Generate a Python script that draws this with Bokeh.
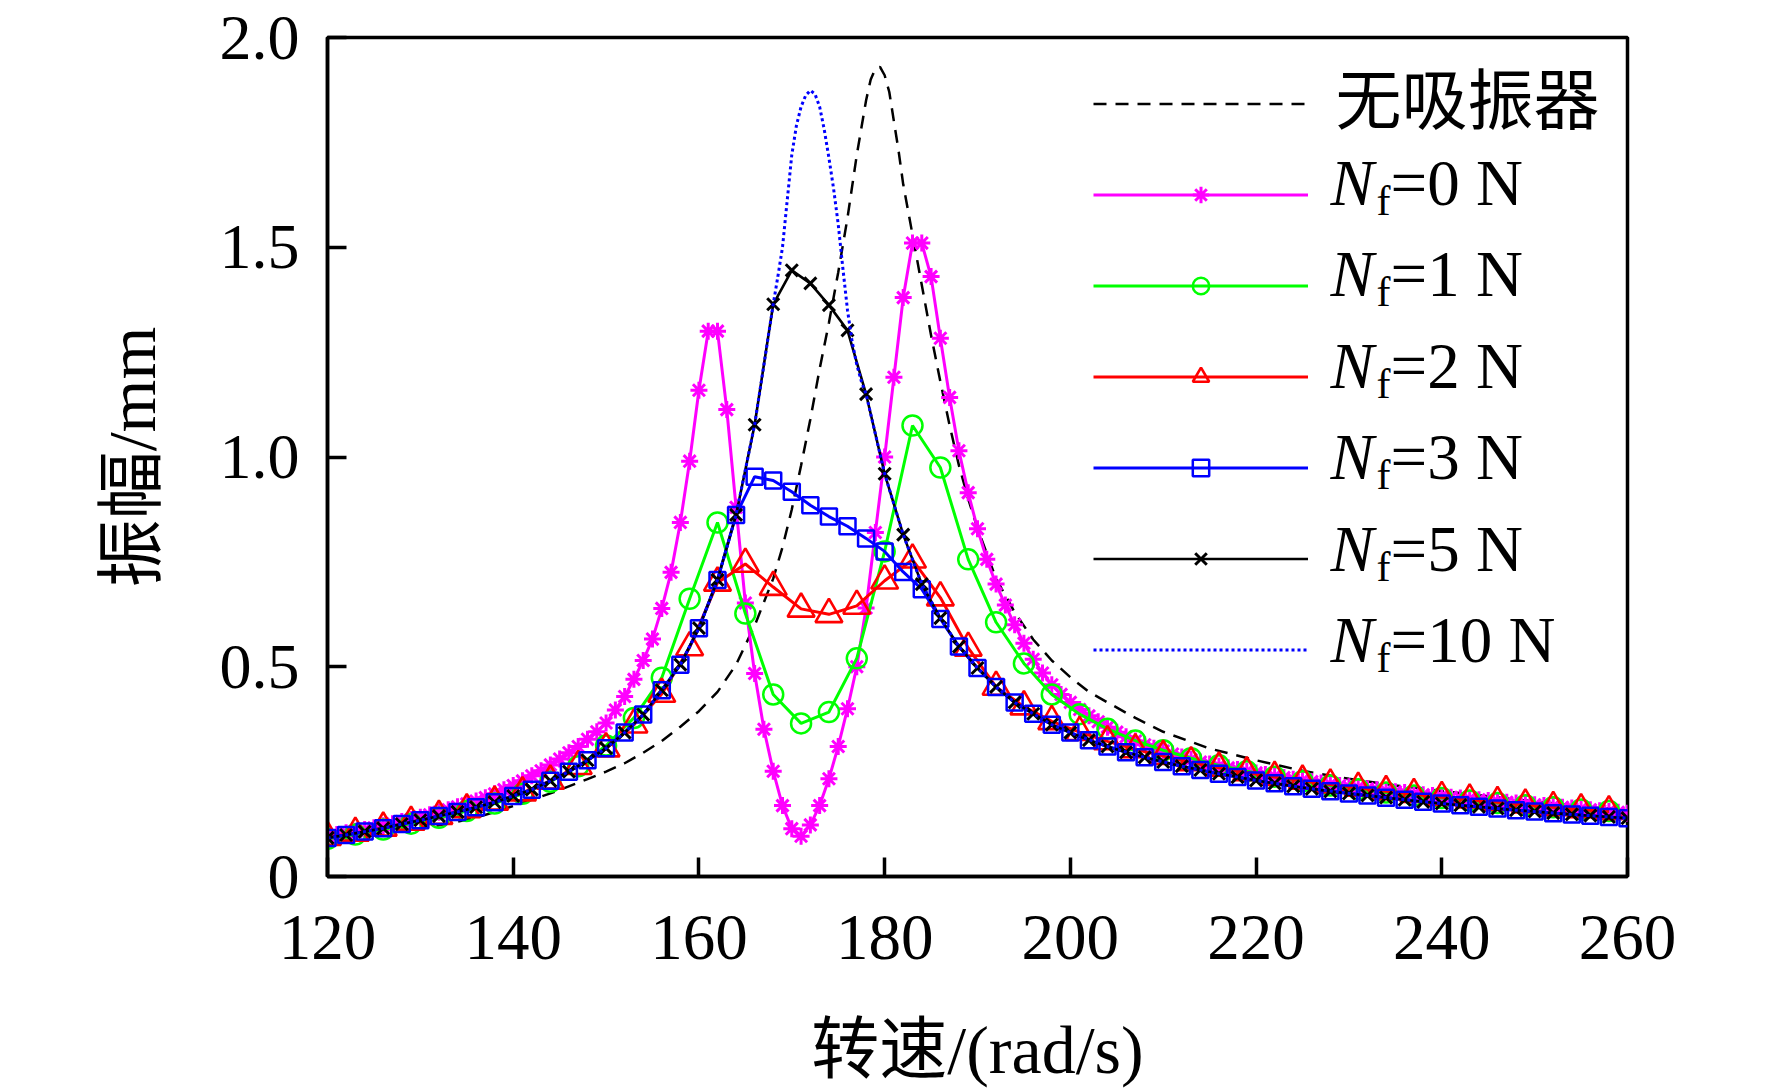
from bokeh.plotting import figure
from bokeh.models import Range1d, FixedTicker, Legend, LegendItem, Label
from bokeh.embed import file_html
from bokeh.resources import INLINE

# ---------------- data ----------------
x_nf0 = list(range(120, 261, 1))
y_nf0 = [0.097, 0.100, 0.104, 0.108, 0.112, 0.116, 0.121, 0.126, 0.131, 0.136,
         0.141, 0.147, 0.153, 0.159, 0.166, 0.173, 0.180, 0.188, 0.197, 0.207,
         0.217, 0.228, 0.240, 0.252, 0.266, 0.280, 0.295, 0.310, 0.327, 0.345,
         0.366, 0.397, 0.429, 0.470, 0.515, 0.566, 0.639, 0.725, 0.844, 0.990,
         1.159, 1.300, 1.300, 1.113, 0.880, 0.652, 0.484, 0.351, 0.251, 0.169,
         0.114, 0.096, 0.123, 0.169, 0.233, 0.310, 0.400, 0.500, 0.640, 0.820,
         1.000, 1.190, 1.380, 1.510, 1.510, 1.430, 1.283, 1.142, 1.015, 0.915,
         0.829, 0.756, 0.697, 0.647, 0.600, 0.556, 0.518, 0.485, 0.457, 0.434,
         0.415, 0.398, 0.383, 0.369, 0.356, 0.344, 0.333, 0.323, 0.314, 0.306,
         0.299, 0.292, 0.285, 0.279, 0.273, 0.268, 0.263, 0.259, 0.255, 0.251,
         0.247, 0.243, 0.239, 0.236, 0.232, 0.229, 0.226, 0.223, 0.220, 0.217,
         0.214, 0.212, 0.209, 0.207, 0.204, 0.202, 0.200, 0.197, 0.195, 0.193,
         0.191, 0.189, 0.187, 0.185, 0.183, 0.181, 0.179, 0.177, 0.175, 0.173,
         0.171, 0.169, 0.167, 0.165, 0.163, 0.161, 0.159, 0.157, 0.155, 0.153,
         0.151]

x_step3 = list(range(120, 259, 3))
y_nf1 = [0.090, 0.100, 0.112, 0.126, 0.140, 0.156, 0.174, 0.197, 0.226, 0.263,
         0.312, 0.378, 0.474, 0.662, 0.844, 0.627, 0.434, 0.365, 0.392, 0.520,
         0.775, 1.075, 0.975, 0.756, 0.606, 0.508, 0.434, 0.387, 0.352, 0.324,
         0.301, 0.282, 0.265, 0.251, 0.238, 0.227, 0.217, 0.208, 0.200, 0.193,
         0.187, 0.181, 0.175, 0.170, 0.165, 0.160, 0.156]
y_nf2 = [0.094, 0.104, 0.116, 0.130, 0.144, 0.160, 0.178, 0.200, 0.228, 0.263,
         0.305, 0.362, 0.435, 0.546, 0.700, 0.745, 0.690, 0.638, 0.625, 0.645,
         0.705, 0.755, 0.665, 0.545, 0.452, 0.405, 0.370, 0.344, 0.322, 0.303,
         0.287, 0.272, 0.259, 0.248, 0.237, 0.228, 0.219, 0.211, 0.203, 0.196,
         0.189, 0.183, 0.177, 0.171, 0.165, 0.160, 0.155]

x_step2 = list(range(120, 261, 2))
y_nf3 = [0.092, 0.099, 0.107, 0.115, 0.125, 0.134, 0.144, 0.154, 0.165, 0.177,
         0.192, 0.207, 0.228, 0.250, 0.277, 0.306, 0.343, 0.386, 0.444, 0.505,
         0.592, 0.707, 0.862, 0.953, 0.944, 0.917, 0.885, 0.858, 0.835, 0.806,
         0.775, 0.726, 0.685, 0.614, 0.548, 0.497, 0.452, 0.415, 0.388, 0.362,
         0.343, 0.325, 0.310, 0.296, 0.284, 0.273, 0.263, 0.254, 0.245, 0.237,
         0.229, 0.222, 0.215, 0.209, 0.203, 0.198, 0.193, 0.188, 0.183, 0.178,
         0.174, 0.170, 0.166, 0.162, 0.158, 0.155, 0.151, 0.148, 0.145, 0.142,
         0.139]
y_nf5 = [0.092, 0.099, 0.107, 0.115, 0.125, 0.134, 0.144, 0.154, 0.165, 0.177,
         0.192, 0.207, 0.228, 0.250, 0.277, 0.306, 0.343, 0.386, 0.444, 0.505,
         0.592, 0.707, 0.862, 1.077, 1.364, 1.445, 1.414, 1.362, 1.302, 1.150,
         0.960, 0.815, 0.697, 0.616, 0.548, 0.497, 0.452, 0.415, 0.388, 0.362,
         0.343, 0.325, 0.310, 0.296, 0.284, 0.273, 0.263, 0.254, 0.245, 0.237,
         0.229, 0.222, 0.215, 0.209, 0.203, 0.198, 0.193, 0.188, 0.183, 0.178,
         0.174, 0.170, 0.166, 0.162, 0.158, 0.155, 0.151, 0.148, 0.145, 0.142,
         0.139]

x_nf10 = [120, 122, 124, 126, 128, 130, 132, 134, 136, 138, 140, 142, 144, 146,
          148, 150, 152, 154, 156, 158, 160, 162, 164, 166, 167, 168, 168.5, 169,
          169.5, 170, 170.5, 171, 171.5, 172, 172.5, 173, 173.5, 174, 174.5, 175,
          175.5, 176, 176.5, 177, 177.5, 178, 180, 182, 184, 186, 188, 190, 192,
          194, 196, 198, 200, 204, 208, 212, 216, 220, 226, 232, 240, 248, 254, 260]
y_nf10 = [0.092, 0.099, 0.107, 0.115, 0.125, 0.134, 0.144, 0.154, 0.165, 0.177,
          0.192, 0.207, 0.228, 0.250, 0.277, 0.306, 0.343, 0.386, 0.444, 0.505,
          0.592, 0.707, 0.862, 1.077, 1.220, 1.364, 1.430, 1.500, 1.610, 1.720,
          1.790, 1.835, 1.862, 1.874, 1.865, 1.835, 1.780, 1.713, 1.640, 1.555,
          1.450, 1.350, 1.275, 1.220, 1.180, 1.150, 0.960, 0.815, 0.697, 0.616,
          0.548, 0.497, 0.452, 0.415, 0.388, 0.362, 0.343, 0.310, 0.284, 0.263,
          0.245, 0.229, 0.209, 0.193, 0.174, 0.158, 0.148, 0.139]

x_none = [120, 124, 128, 132, 136, 140, 144, 148, 150, 152, 154, 156, 158, 160,
          162, 164, 166, 168, 169, 170, 171, 172, 173, 174, 175, 176, 177, 178,
          178.5, 179, 179.5, 180, 180.5, 181, 181.5, 182, 183, 184, 185, 186, 187,
          188, 189, 190, 192, 194, 196, 198, 200, 202, 204, 207, 210, 215, 220,
          225, 230, 235, 240, 245, 250, 255, 260]
y_none = [0.088, 0.097, 0.108, 0.122, 0.140, 0.168, 0.198, 0.232, 0.250, 0.270,
          0.295, 0.323, 0.357, 0.394, 0.440, 0.505, 0.598, 0.710, 0.785, 0.875,
          0.980, 1.090, 1.210, 1.320, 1.440, 1.570, 1.720, 1.850, 1.900, 1.925,
          1.930, 1.910, 1.870, 1.800, 1.730, 1.650, 1.530, 1.410, 1.290, 1.180,
          1.075, 0.980, 0.900, 0.830, 0.710, 0.630, 0.565, 0.515, 0.475, 0.440,
          0.415, 0.378, 0.345, 0.305, 0.277, 0.252, 0.233, 0.217, 0.204, 0.191,
          0.179, 0.168, 0.158]

x_ticks = [120, 140, 160, 180, 200, 220, 240, 260]
y_ticks = [0, 0.5, 1.0, 1.5, 2.0]
y_tick_labels = {0: "0", 0.5: "0.5", 1: "1.0", 1.5: "1.5", 2: "2.0"}
legend_none = "无吸振器"
legend_values = ["=0 N", "=1 N", "=2 N", "=3 N", "=5 N", "=10 N"]
x_title = "转速/(rad/s)"
y_title = "振幅/mm"

# ---------------- figure ----------------
SERIF = "Liberation Serif"
MIXED = "Liberation Serif, Noto Sans CJK SC"

FL, FT, FW, FH = 327, 37, 1300, 839      # frame left/top/width/height (page px)
FB = FT + FH                              # frame bottom

p = figure(frame_width=FW, frame_height=FH,
           min_border_left=FL, min_border_right=1770 - FL - FW,
           min_border_top=FT, min_border_bottom=1090 - FB,
           x_range=Range1d(120, 260), y_range=Range1d(0, 2.0),
           output_backend="svg", toolbar_location=None,
           background_fill_color="white", border_fill_color="white")

p.xgrid.grid_line_color = None
p.ygrid.grid_line_color = None
p.outline_line_color = "black"
p.outline_line_width = 3.5
p.outline_line_alpha = 1.0

for ax in (p.xaxis[0], p.yaxis[0]):
    ax.axis_line_width = 3.5
    ax.axis_line_color = "black"
    ax.major_tick_in = 19
    ax.major_tick_out = 0
    ax.major_tick_line_width = 3.5
    ax.major_tick_line_color = "black"
    ax.minor_tick_line_color = None
    ax.major_label_text_font = SERIF
    ax.major_label_text_color = "black"
    ax.axis_label_text_font = MIXED
    ax.axis_label_text_font_size = "68px"
    ax.axis_label_text_font_style = "normal"
    ax.axis_label_text_color = "black"

p.xaxis.major_label_text_font_size = "65px"
p.yaxis.major_label_text_font_size = "64px"
p.xaxis.ticker = FixedTicker(ticks=x_ticks)
p.yaxis.ticker = FixedTicker(ticks=y_ticks)
p.yaxis.major_label_overrides = y_tick_labels
p.xaxis.axis_label = x_title
p.yaxis.axis_label = y_title
p.xaxis.major_label_standoff = 39
p.xaxis.axis_label_standoff = 50
p.yaxis.major_label_standoff = 28
p.yaxis.axis_label_standoff = 47

# ---------------- series ----------------
r_none = p.line(x_none, y_none, line_color="black", line_width=2.5, line_dash="13 9")

l0 = p.line(x_nf0, y_nf0, line_color="#FF00FF", line_width=3)
s0 = p.scatter(x_nf0, y_nf0, marker="asterisk", size=17, line_color="#FF00FF", line_width=3)

l1 = p.line(x_step3, y_nf1, line_color="#00FF00", line_width=3)
s1 = p.scatter(x_step3, y_nf1, marker="circle", size=20, fill_color=None,
               line_color="#00FF00", line_width=2.5)

l2 = p.line(x_step3, y_nf2, line_color="#FF0000", line_width=3)
s2 = p.scatter(x_step3, y_nf2, marker="triangle", size=27, fill_color=None,
               line_color="#FF0000", line_width=2.6)

l3 = p.line(x_step2, y_nf3, line_color="#0000FF", line_width=3)
s3 = p.scatter(x_step2, y_nf3, marker="square", size=16, fill_color=None,
               line_color="#0000FF", line_width=2.5)

l5 = p.line(x_step2, y_nf5, line_color="black", line_width=2.6)
s5 = p.scatter(x_step2, y_nf5, marker="x", size=17, line_color="black", line_width=3)

l10 = p.line(x_nf10, y_nf10, line_color="#0000FF", line_width=3, line_dash="3 3")

# ---------------- legend (glyphs) ----------------
groups = [[r_none], [l0, s0], [l1, s1], [l2, s2], [l3, s3], [l5, s5], [l10]]
items = [LegendItem(label=" " * (k + 1), renderers=g) for k, g in enumerate(groups)]
row_first = 103.5      # page y of first legend row centre
pitch = 91
glyph_h = 41
legend_bottom = row_first + pitch * (len(groups) - 1) + glyph_h / 2
legend = Legend(items=items, location=(1093 - FL, FB - legend_bottom), orientation="vertical",
                glyph_width=215, glyph_height=glyph_h, spacing=pitch - glyph_h,
                padding=0, margin=0,
                label_standoff=0, label_width=1, label_height=1,
                label_text_font_size="1px",
                background_fill_alpha=0, border_line_alpha=0)
p.add_layout(legend)

# ---------------- legend (texts) ----------------
MID_FIX = 8
ALPHA_FIX_BIG = 22
ALPHA_FIX_SMALL = 17

p.add_layout(Label(x=1335 - FL, y=FB - 102 + MID_FIX, x_units="screen", y_units="screen",
                   text=legend_none, text_font="Noto Sans CJK SC", text_font_size="66px",
                   text_baseline="middle", text_align="left", text_color="black"))
for i, val in enumerate(legend_values):
    b = 204 + 91.5 * i
    p.add_layout(Label(x=1330 - FL, y=FB - b + ALPHA_FIX_BIG, x_units="screen", y_units="screen",
                       text="N", text_font=SERIF, text_font_size="65px", text_font_style="italic",
                       text_baseline="alphabetic", text_align="left", text_color="black"))
    p.add_layout(Label(x=1376 - FL, y=FB - (b + 13) + ALPHA_FIX_SMALL, x_units="screen", y_units="screen",
                       text="f", text_font=SERIF, text_font_size="42px",
                       text_baseline="alphabetic", text_align="left", text_color="black"))
    p.add_layout(Label(x=1390 - FL, y=FB - b + ALPHA_FIX_BIG, x_units="screen", y_units="screen",
                       text=val, text_font=SERIF, text_font_size="65px",
                       text_baseline="alphabetic", text_align="left", text_color="black"))

open("out.html", "w").write(file_html(p, INLINE))
